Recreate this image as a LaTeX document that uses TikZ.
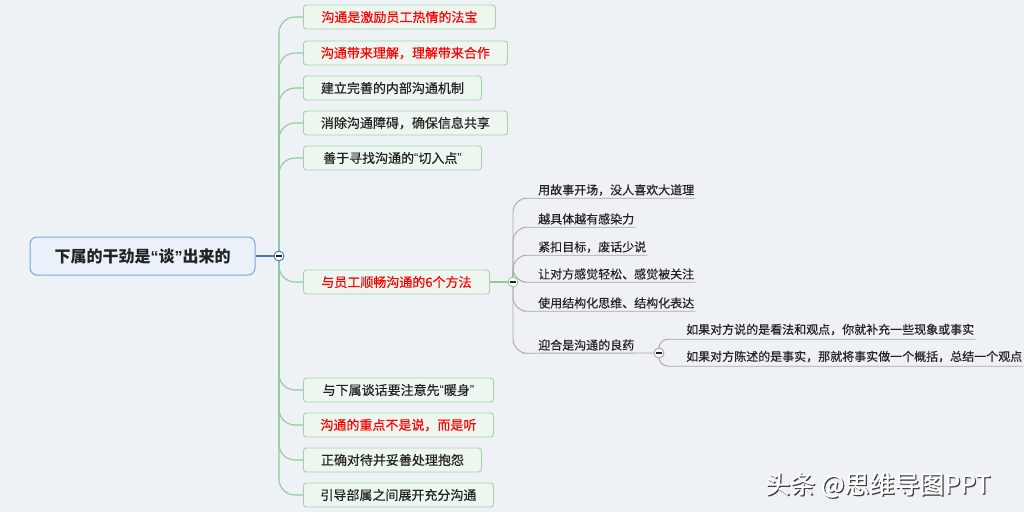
\documentclass[tikz,border=0pt]{standalone}
\usepackage{fontspec}
\setmainfont{Noto Sans CJK SC}
\newfontfamily\medfont[FakeBold=0.35]{Noto Sans CJK SC}
\newfontfamily\qf{Liberation Sans}
\newcommand{\myopq}{{\qf “}}
\newcommand{\myclq}{{\qf ”}}
\definecolor{bg}{HTML}{EEF2F6}
\definecolor{gline}{HTML}{8DCB98}
\definecolor{gbox}{HTML}{A2D4A9}
\definecolor{gfill}{HTML}{EDF6EF}
\definecolor{bline}{HTML}{3D77C0}
\definecolor{bbox}{HTML}{7FA6D6}
\definecolor{bfill}{HTML}{EAF1FB}
\definecolor{greyline}{HTML}{A8A8A8}
\definecolor{dark}{HTML}{222222}
\definecolor{redtext}{HTML}{FF0000}
\tikzset{
  rootbox/.style={draw=bbox, fill=bfill, line width=1pt, rounded corners=7pt,
    minimum width=225pt, minimum height=38pt, inner sep=0pt,
    font=\fontsize{16}{18}\selectfont\bfseries, text=dark},
  lonebox/.style={draw=gbox, fill=gfill, line width=0.9pt, rounded corners=3pt,
    minimum height=24pt, inner sep=0pt, anchor=west,
    font=\medfont\fontsize{13}{15}\selectfont, text=dark},
  lonered/.style={lonebox, text=redtext},
  ltwo/.style={anchor=west, inner xsep=1pt, inner ysep=0pt, minimum height=16pt,
    font=\medfont\fontsize{12}{14}\selectfont, text=dark},
  lthree/.style={ltwo, minimum height=19pt},
  foldc/.style={circle, fill=white, draw=#1, line width=0.9pt, minimum size=10pt, inner sep=0pt,
    path picture={\draw[line width=1.1pt, dark]
      ([xshift=-2.6pt]path picture bounding box.center) --
      ([xshift=2.6pt]path picture bounding box.center);}},
  gconn/.style={draw=gline, line width=1.1pt, rounded corners=16pt},
  grconn/.style={draw=greyline, line width=0.9pt, rounded corners=14pt},
  grconnsmall/.style={draw=greyline, line width=0.9pt, rounded corners=9pt},
  wmark/.style={anchor=west, inner sep=0pt, font=\medfont\fontsize{25}{28}\selectfont},
}
\begin{document}
\begin{tikzpicture}[x=1pt,y=-1pt]
\fill[bg] (0,0) rectangle (1024,512);
\useasboundingbox (0,0) rectangle (1024,512);

% root
\node[rootbox] (root) at (142.5,256) {下属的干劲是\myopq 谈\myclq 出来的};

% level 1 boxes
\node[lonered, minimum width=192pt] (b1) at (303,17) {沟通是激励员工热情的法宝};
\node[lonered, minimum width=204pt] (b2) at (303,53) {沟通带来理解，理解带来合作};
\node[lonebox, minimum width=178pt] (b3) at (303,88) {建立完善的内部沟通机制};
\node[lonebox, minimum width=204pt] (b4) at (303,123) {消除沟通障碍，确保信息共享};
\node[lonebox, minimum width=178pt] (b5) at (303,158) {善于寻找沟通的\myopq 切入点\myclq};
\node[lonered, minimum width=186pt] (b6) at (303,282) {与员工顺畅沟通的6个方法};
\node[lonebox, minimum width=190pt] (b7) at (303,390) {与下属谈话要注意先\myopq 暖身\myclq};
\node[lonered, minimum width=190pt] (b8) at (303,425) {沟通的重点不是说，而是听};
\node[lonebox, minimum width=178pt] (b9) at (303,460) {正确对待并妥善处理抱怨};
\node[lonebox, minimum width=190pt] (b10) at (303,495) {引导部属之间展开充分沟通};

% level 2 items
\node[ltwo] (i1) at (537,190) {用故事开场，没人喜欢大道理};
\node[ltwo] (i2) at (537,219) {越具体越有感染力};
\node[ltwo] (i3) at (537,247) {紧扣目标，废话少说};
\node[ltwo] (i4) at (537,274) {让对方感觉轻松、感觉被关注};
\node[ltwo] (i5) at (537,303) {使用结构化思维、结构化表达};
\node[ltwo] (i6) at (537,345) {迎合是沟通的良药};

% level 3 items
\node[lthree] (j1) at (685,329.5) {如果对方说的是看法和观点，你就补充一些现象或事实};
\node[lthree] (j2) at (685,356.5) {如果对方陈述的是事实，那就将事实做一个概括，总结一个观点};

% fold circles (coordinates)
\coordinate (c0pos) at (279,256);
\coordinate (c1pos) at (513,282);
\coordinate (c2pos) at (659,353);

% connectors level 1
\draw[draw=bline, line width=1.1pt] (root.east) -- (c0pos);
\foreach \b in {b1,b2,b3,b4,b5,b6,b7,b8,b9,b10}{
  \draw[gconn] (c0pos) |- (\b.west);
}
\draw[draw=gline, line width=1.1pt] (b6.east) -- (c1pos);

% connectors level 2
\foreach \i in {i1,i2,i3,i4,i5}{
  \draw[grconn] (c1pos) |- (\i.south west) -- (\i.south east);
}
\draw[grconn] (c1pos) |- (i6.south west) -- (c2pos);

% connectors level 3
\draw[grconnsmall] (c2pos) |- (j1.south west) -- (j1.south east);
\draw[grconnsmall] (c2pos) |- (j2.south west) -- (j2.south east);

% fold circle nodes on top
\node[foldc=bline] (c0) at (c0pos) {};
\node[foldc=gline] (c1) at (c1pos) {};
\node[foldc=greyline] (c2) at (c2pos) {};

% watermark
\node[wmark, text=black!75] (wmshadow) at (766.2,486.2) {头条 @思维导图PPT};
\node[wmark, text=white] (wm) at (765,485) {头条 @思维导图PPT};
\end{tikzpicture}
\end{document}
